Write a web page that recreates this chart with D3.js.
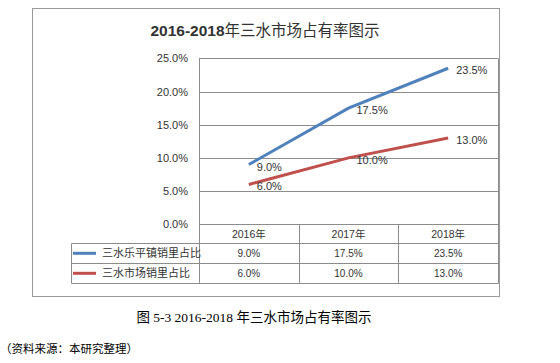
<!DOCTYPE html>
<html><head><meta charset="utf-8">
<script src="https://cdn.jsdelivr.net/npm/d3@7"></script>
<style>body{margin:0;background:#fff;}svg{display:block;}</style>
</head><body>
<script>
const categories = ["2016年","2017年","2018年"];
const seriesNames = ["三水乐平镇销里占比","三水市场销里占比"];
const seriesA = [9.0, 17.5, 23.5];
const seriesB = [6.0, 10.0, 13.0];
const yTicks = [0, 5, 10, 15, 20, 25];
const colors = ["#4f81bd", "#c0504d"];
const series = [seriesA, seriesB];

const W = 560, H = 363;
const svg = d3.select("body").append("svg").attr("width", W).attr("height", H);
const sans = "'Liberation Sans','Noto Sans CJK SC',sans-serif";
const cjk = "'Noto Sans CJK SC',sans-serif";

// outer box
svg.append("rect").attr("x", 32.5).attr("y", 8.5).attr("width", 467).attr("height", 288)
  .attr("fill", "none").attr("stroke", "#9a9a9a").attr("stroke-width", 1);

// title
const t = svg.append("text").attr("x", 265).attr("y", 35.5).attr("text-anchor", "middle")
  .attr("fill", "#333").style("font-size", "15.5px");
t.append("tspan").style("font-family", sans).style("font-weight", "bold").text("2016-2018");
t.append("tspan").style("font-family", cjk).text("年三水市场占有率图示");

const plotL = 199, plotR = 498, plotT = 58.3, plotB = 224.3;
const x = d3.scaleBand().domain(categories).range([plotL, plotR]);
const y = d3.scaleLinear().domain([0, 25]).range([plotB, plotT]);
const gridColor = "#8c8c8c";

// gridlines
svg.append("g").selectAll("line").data(yTicks).join("line")
  .attr("x1", plotL).attr("x2", plotR)
  .attr("y1", d => Math.round(y(d)) + 0.5).attr("y2", d => Math.round(y(d)) + 0.5)
  .attr("stroke", gridColor);

// y axis labels
const yAxis = d3.axisLeft(y).tickValues(yTicks).tickSize(0).tickPadding(0)
  .tickFormat(d => d.toFixed(1) + "%");
const ya = svg.append("g").attr("transform", `translate(188,0)`).call(yAxis);
ya.select(".domain").remove();
ya.selectAll("text").style("font-family", sans).style("font-size", "11px").attr("fill", "#333");

// table structure
const rowH = 20;
const r1 = plotB + 19, r2 = r1 + rowH, r3 = r2 + rowH;
const tableL = 71;
const lines = [
  [plotL, plotT, plotL, r3], [plotR, plotT, plotR, r3],
  [tableL, r1, plotR, r1], [tableL, r2, plotR, r2], [tableL, r3, plotR, r3],
  [tableL, r1, tableL, r3]
];
categories.slice(1).forEach(c => lines.push([x(c), plotB, x(c), r3]));
svg.append("g").selectAll("line").data(lines).join("line")
  .attr("x1", d => Math.round(d[0]) + 0.5).attr("y1", d => Math.round(d[1]) + 0.5)
  .attr("x2", d => Math.round(d[2]) + 0.5).attr("y2", d => Math.round(d[3]) + 0.5)
  .attr("stroke", gridColor);

// header
svg.append("g").selectAll("text").data(categories).join("text")
  .attr("x", d => x(d) + x.bandwidth() / 2).attr("y", (plotB + r1) / 2 + 4)
  .attr("text-anchor", "middle").attr("fill", "#333")
  .style("font-family", sans).style("font-size", "10.5px").text(d => d);

// rows
series.forEach((s, i) => {
  const ry = (i === 0 ? (r1 + r2) / 2 : (r2 + r3) / 2);
  svg.append("line").attr("x1", 73).attr("x2", 96).attr("y1", ry).attr("y2", ry)
    .attr("stroke", colors[i]).attr("stroke-width", 3);
  svg.append("text").attr("x", 102).attr("y", ry + 4).attr("fill", "#333")
    .style("font-family", cjk).style("font-size", "11px").text(seriesNames[i]);
  svg.append("g").selectAll("text").data(s).join("text")
    .attr("x", (d, j) => x(categories[j]) + x.bandwidth() / 2).attr("y", ry + 4)
    .attr("text-anchor", "middle").attr("fill", "#333")
    .style("font-family", sans).style("font-size", "10px").text(d => d.toFixed(1) + "%");
});

// lines
const line = d3.line().x((d, j) => x(categories[j]) + x.bandwidth() / 2).y(d => y(d));
series.forEach((s, i) => {
  svg.append("path").datum(s).attr("d", line).attr("fill", "none")
    .attr("stroke", colors[i]).attr("stroke-width", 3);
});
// data labels
series.forEach((s, i) => {
  svg.append("g").selectAll("text").data(s).join("text")
    .attr("x", (d, j) => x(categories[j]) + x.bandwidth() / 2 + 8)
    .attr("y", d => y(d) + 6)
    .attr("fill", "#333").style("font-family", sans).style("font-size", "11px")
    .text(d => d.toFixed(1) + "%");
});

// caption
const cap = svg.append("text").attr("x", 254).attr("y", 321.5).attr("text-anchor", "middle")
  .attr("fill", "#000").style("font-size", "13.5px");
cap.append("tspan").style("font-family", cjk).text("图 ");
cap.append("tspan").style("font-family", "'Liberation Serif',serif").text("5-3 2016-2018 ");
cap.append("tspan").style("font-family", cjk).text("年三水市场占有率图示");

svg.append("text").attr("x", 0).attr("y", 353).attr("fill", "#000")
  .style("font-family", cjk).style("font-size", "11.5px").text("（资料来源：本研究整理）");
</script>
</body></html>
